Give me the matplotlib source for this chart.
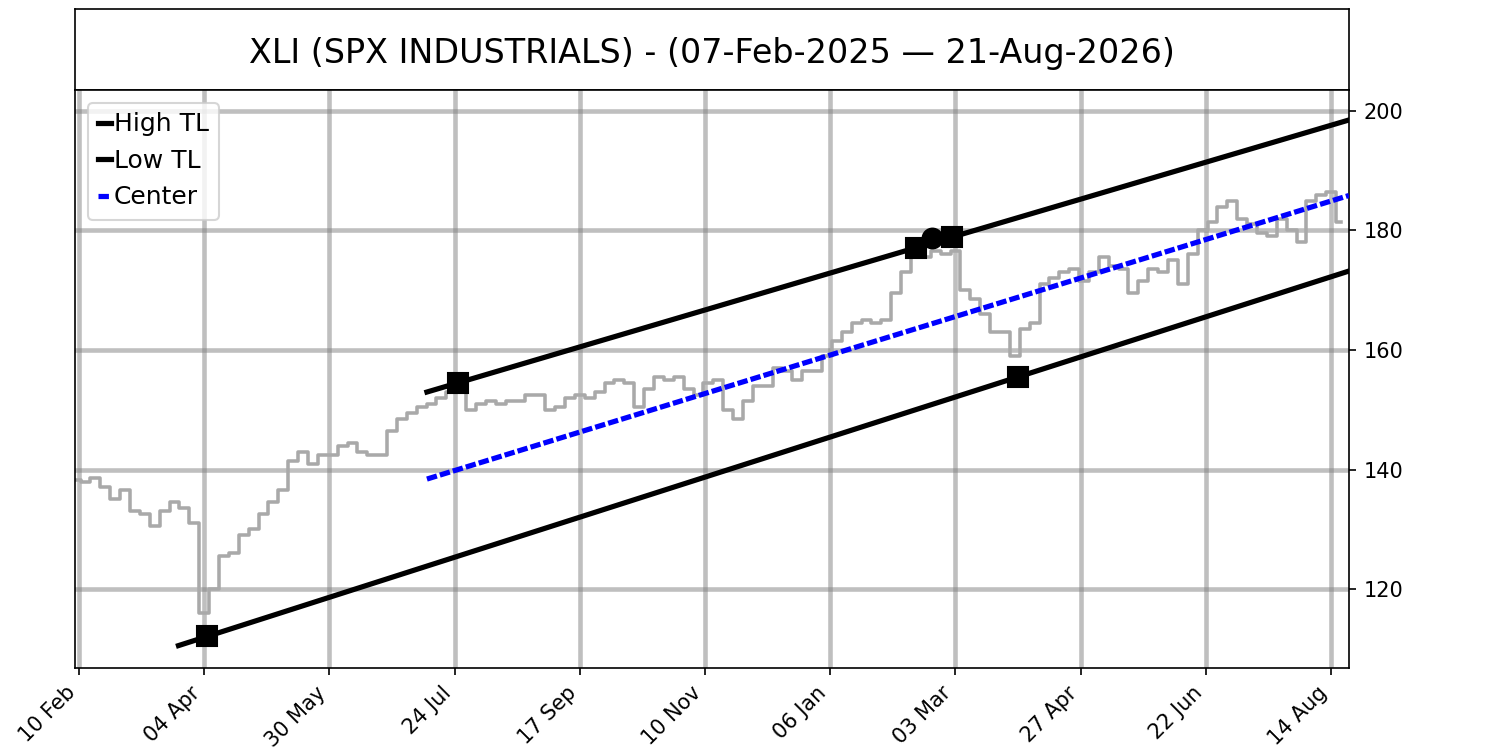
import numpy as np
import matplotlib
matplotlib.use("Agg")
import matplotlib.pyplot as plt

# donnees (un point tous les 3 jours de bourse)
step = 3
price = [138.2, 138.0, 138.6, 137.0, 135.0, 136.5, 133.0, 132.5, 130.5, 133.0,
         134.5, 133.5, 131.0, 116.0, 120.0, 125.5, 126.0, 129.0, 130.0, 132.5,
         134.5, 136.5, 141.5, 143.0, 141.0, 142.5, 142.5, 144.0, 144.5, 143.0,
         142.5, 142.5, 146.5, 148.5, 149.5, 150.5, 151.0, 152.0, 153.0, 153.5,
         150.0, 151.0, 151.5, 151.0, 151.5, 151.5, 152.5, 152.5, 150.0, 150.5,
         152.0, 152.5, 152.0, 153.0, 154.5, 155.0, 154.5, 150.5, 153.5, 155.5,
         155.0, 155.5, 153.5, 152.5, 154.5, 155.0, 150.0, 148.5, 151.5, 154.0,
         154.0, 157.0, 156.5, 155.0, 156.5, 156.5, 159.0, 161.5, 163.0, 164.5,
         165.0, 164.5, 165.0, 169.5, 173.0, 175.5, 175.5, 176.5, 176.0, 176.5,
         170.0, 168.5, 166.0, 163.0, 163.0, 159.0, 163.5, 164.5, 171.0, 172.0,
         173.0, 173.5, 171.5, 173.0, 175.5, 174.0, 173.5, 169.5, 171.5, 173.5,
         173.0, 175.0, 171.0, 176.0, 180.0, 181.5, 184.0, 185.0, 182.0, 181.0,
         179.5, 179.0, 182.0, 180.0, 178.0, 185.0, 186.0, 186.5, 181.5]

# points pivots des lignes de tendance (indice de jour, prix)
high_piv_x = [116, 266]
high_piv_y = [154.5, 178.9]
low_piv_x = [40, 286]
low_piv_y = [112.1, 155.5]
mid_piv_x = [255, 266]
mid_piv_y = [177.1, 178.9]
last_high_x = 260
last_high_y = 178.7

n_days = 387
tick_labels = ['10 Feb', '04 Apr', '30 May', '24 Jul', '17 Sep', '10 Nov',
               '06 Jan', '03 Mar', '27 Apr', '22 Jun', '14 Aug']
title = 'XLI (SPX INDUSTRIALS) - (07-Feb-2025 \u2014 21-Aug-2026)'

x_price = np.arange(len(price)) * step

# droites
def line(px, py, x0, x1):
    a = (py[1] - py[0]) / (px[1] - px[0])
    xs = np.array([x0, x1])
    return xs, py[0] + a * (xs - px[0])

x_end = n_days - 0.6
hx, hy = line(high_piv_x, high_piv_y, high_piv_x[0] - 9.4, x_end)
lx, ly = line(low_piv_x, low_piv_y, low_piv_x[0] - 8.8, x_end)
cx = hx
cy = (hy + line(low_piv_x, low_piv_y, hx[0], x_end)[1]) / 2

fig = plt.figure(figsize=(10, 5), dpi=150)
ax_t = fig.add_axes([0.05, 0.88, 0.8493, 0.108])
ax_t.set_xticks([])
ax_t.set_yticks([])
ax_t.text(0.5, 0.45, title, ha='center', va='center', fontsize=16,
          transform=ax_t.transAxes)

ax = fig.add_axes([0.05, 0.10933, 0.8493, 0.77067])
ax.plot(x_price, price, color='darkgray', lw=1.7, drawstyle='steps-mid', zorder=2)
ax.plot(hx, hy, color='black', lw=2.5, label='High TL', zorder=3)
ax.plot(lx, ly, color='black', lw=2.5, label='Low TL', zorder=3)
ax.plot(cx, cy, color='blue', lw=2.5, dashes=(2.0, 0.6), label='Center', zorder=3)
ax.plot(high_piv_x + [mid_piv_x[0]], high_piv_y + [mid_piv_y[0]], 's',
        color='black', ms=9.5, zorder=4)
ax.plot(low_piv_x, low_piv_y, 's', color='black', ms=9.5, zorder=4)
ax.plot(last_high_x, last_high_y, 'o', color='black', ms=9.5, zorder=4)

ax.set_xlim(-0.2, n_days - 0.6)
ax.set_ylim(106.8, 203.5)
ax.set_xticks(np.arange(len(tick_labels)) * 38 + 1)
ax.set_xticklabels(tick_labels, rotation=45, ha='right')
ax.set_yticks([120, 140, 160, 180, 200])
ax.yaxis.tick_right()
ax.grid(color='gray', alpha=0.5, lw=2.2)
ax.set_axisbelow(True)
ax.legend(loc='upper left', fontsize=12, handlelength=0.55, handletextpad=0.1)

plt.savefig('out.png', dpi=150)
